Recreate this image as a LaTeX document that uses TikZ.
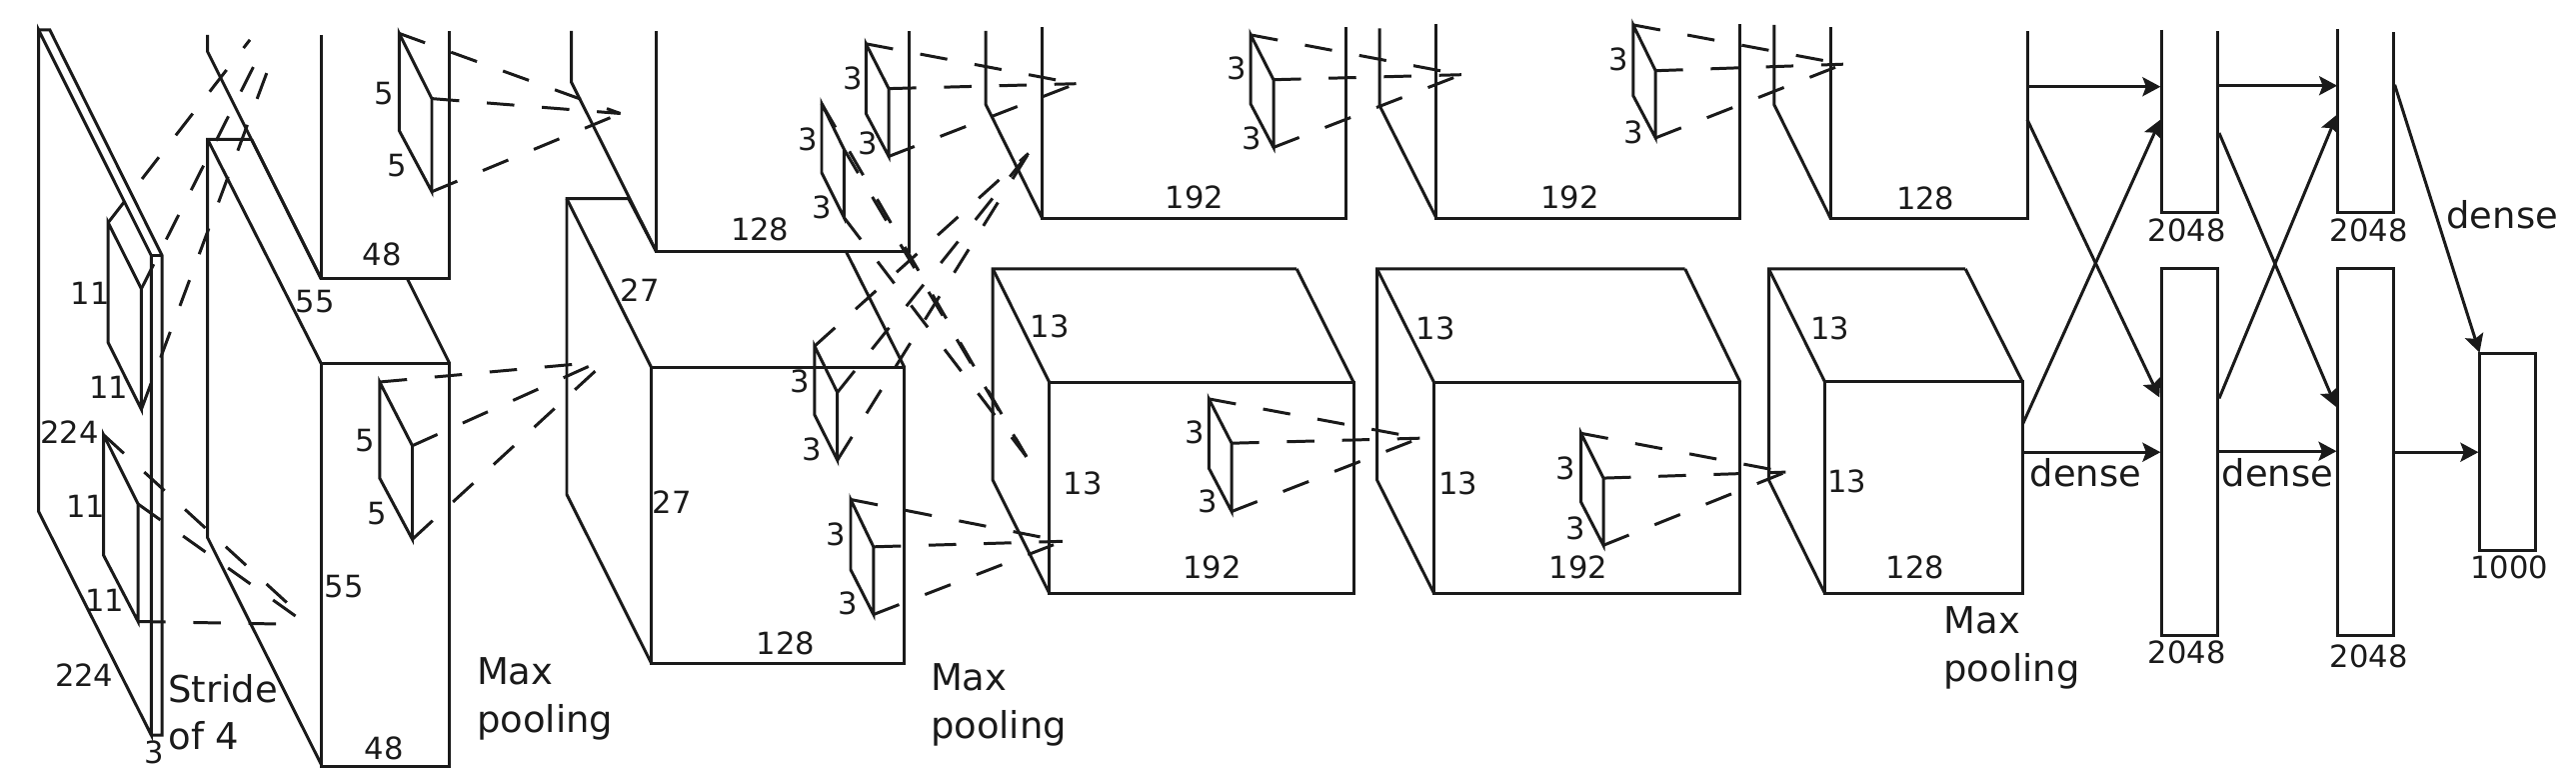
\documentclass[tikz,border=0pt]{standalone}
\usepackage{fontspec}
\setmainfont{DejaVu Sans}
\usetikzlibrary{arrows.meta}
\definecolor{inkline}{HTML}{1A1A1A}
\tikzset{
  numlabel/.style={font=\fontsize{8.7}{10}\selectfont,inner sep=0pt},
  steplabel/.style={font=\fontsize{10.5}{13.5}\selectfont,inner sep=0pt,align=left,anchor=west},
  kernelline/.style={dash pattern=on 0.275cm off 0.277cm},
}
\begin{document}
\begin{tikzpicture}[x=0.01cm,y=-0.01cm,line width=0.85pt,color=inkline,
  >={Stealth[length=0.18cm,width=0.19cm,inset=0.035cm]}]
\useasboundingbox (0,0) rectangle (2577,781);

% Input
\draw (38.6,29.9) -- (38.6,511.5) -- (151.3,735) -- (151.3,255.5) -- cycle;
\draw (38.6,29.9) -- (49.8,29.9) -- (162.1,255.5) -- (162.1,735) -- (151.3,735);
\draw (151.3,255.5) -- (162.1,255.5);

% Conv 1, upper and lower
\draw (207.7,34.9) -- (207.7,51.8) -- (321.3,278.9);
\draw (321.3,34.9) -- (321.3,278.9) -- (449.8,278.9) -- (449.8,31.4);
\draw (251.7,139.4) -- (207.7,139.4) -- (207.7,537.8) -- (321.3,764.4);
\draw (207.7,139.4) -- (321.3,363.5);
\draw (251.7,139.4) -- (321.3,278.9);
\draw (407.5,278.9) -- (449.8,363.5);
\draw (321.3,363.5) rectangle (449.8,766.9);

% Conv 2, upper and lower
\draw (571.6,30.9) -- (571.6,82.2) -- (656.5,251.5);
\draw (656.5,30.9) -- (656.5,251.5) -- (909.9,251.5) -- (909.9,30.9);
\draw (628.8,198.7) -- (567,198.7) -- (567,494.5) -- (651.6,663.3);
\draw (567,198.7) -- (651.6,367.5);
\draw (628.8,198.7) -- (656.5,251.5);
\draw (846.4,251.5) -- (904.9,367.5);
\draw (651.6,367.5) rectangle (904.9,663.3);

% Conv 3, upper and lower
\draw (986.2,30.9) -- (986.2,104.6) -- (1042.5,218.1);
\draw (1042.5,27.4) -- (1042.5,218.1) -- (1346.9,218.1) -- (1346.9,27.4);
\draw (1297.2,268.9) -- (993.2,268.9) -- (993.2,480.1) -- (1049.6,593.1);
\draw (993.2,268.9) -- (1049.6,382);
\draw (1297.2,268.9) -- (1354,382);
\draw (1049.6,382) rectangle (1354,593.1);

% Conv 4, upper and lower
\draw (1380.1,28.4) -- (1380.1,105.6) -- (1436.9,218.1);
\draw (1436.9,23.9) -- (1436.9,218.1) -- (1740.8,218.1) -- (1740.8,23.9);
\draw (1685.7,268.9) -- (1377.6,268.9) -- (1377.6,480.1) -- (1434.4,593.1);
\draw (1377.6,268.9) -- (1434.4,382);
\draw (1685.7,268.9) -- (1740.8,382);
\draw (1434.4,382) rectangle (1740.8,593.1);

% Conv 5, upper and lower
\draw (1774.8,24.9) -- (1774.8,104.6) -- (1831.2,218.1);
\draw (1831.2,27.4) -- (1831.2,218.1) -- (2028,218.1) -- (2028,31.4);
\draw (1966.2,268.9) -- (1769.5,268.9) -- (1769.5,480.1) -- (1825.4,593.1);
\draw (1769.5,268.9) -- (1825.4,381.5);
\draw (1966.2,268.9) -- (2023.2,381.5);
\draw (1825.4,381.5) rectangle (2023.2,593.1);

% Dense layers
\draw (2162.4,29.9) -- (2162.4,212.6) -- (2218.9,212.6) -- (2218.9,30.9);
\draw (2338.1,28.9) -- (2338.1,212.6) -- (2394.5,212.6) -- (2394.5,31.9);
\draw (2162.4,268.9) rectangle (2218.9,635.5);
\draw (2338.1,268.9) rectangle (2394.5,635.5);
\draw (2480.5,353.6) rectangle (2536.9,550.3);

% Where the kernels point
\coordinate (t1a) at (250,39.8);
\coordinate (t1b) at (254.6,64.7);
\coordinate (t1c) at (269.9,64.7);
\coordinate (t2a) at (290.2,605.6);
\coordinate (t2b) at (297.7,617.5);
\coordinate (t2c) at (279,624);
\coordinate (t3) at (620.6,113.5);
\coordinate (t4a) at (577.5,364);
\coordinate (t4b) at (592,365);
\coordinate (t4c) at (598.3,368.5);
\coordinate (t5) at (1076.5,83.7);
\coordinate (t6) at (1026.8,456.7);
\coordinate (t7) at (1028.9,153.4);
\coordinate (t8) at (1062.9,541.3);
\coordinate (t9) at (1461.8,74.7);
\coordinate (t10) at (1420.3,438.2);
\coordinate (t11) at (1843.9,64.2);
\coordinate (t12) at (1786.4,472.1);

% Kernels
\foreach \kname/\xa/\xb/\ya/\yb/\yc/\yd/\ta/\tb/\tc in {
  ka/108.2/141.4/222.6/288.8/342.6/409.4/t1a/t1b/t1c,
  kb/103.6/138.1/434.8/504/555.3/621.5/t2a/t2b/t2c,
  kc/399.3/432/33.4/98.6/130.5/191.7/t3/t3/t3,
  kd/379.8/412.5/382/445.7/478.1/539.3/t4a/t4b/t4c,
  ke/866.3/889.1/43.8/88.6/113.5/156.4/t5/t5/t5,
  kf/822/844.4/103.6/149.4/172.8/217.6/t6/t6/t6,
  kg/814.9/837.7/346.1/392.4/414.8/460.2/t7/t7/t7,
  kh/851/873.8/499.5/546.8/569.7/614.5/t8/t8/t8,
  ki/1251.2/1274/34.9/79.7/104.1/147.4/t9/t9/t9,
  kj/1209.3/1232.1/398.9/443.2/468.1/511.5/t10/t10/t10,
  kk/1633.8/1656.2/24.9/70.7/95.6/137.9/t11/t11/t11,
  kl/1581.6/1604/433.3/478.1/502/545.3/t12/t12/t12} {
  \coordinate (\kname-a) at (\xa,\ya);
  \coordinate (\kname-b) at (\xb,\yb);
  \coordinate (\kname-c) at (\xa,\yc);
  \coordinate (\kname-d) at (\xb,\yd);
  \draw (\kname-a) -- (\kname-c) -- (\kname-d) -- (\kname-b) -- cycle;
  \draw[kernelline] (\kname-a) -- (\ta);
  \draw[kernelline] (\kname-b) -- (\tb);
  \draw[kernelline] (\kname-d) -- (\tc);
}

% Arrow ends
\coordinate (c5u-a) at (2028,86.7);
\coordinate (c5u-b) at (2028,119.5);
\coordinate (c5l-a) at (2023.2,424.8);
\coordinate (c5l-b) at (2023.2,452.2);
\coordinate (d1u-a) at (2161.4,86.7);
\coordinate (d1u-b) at (2161.4,119.5);
\coordinate (d1l-a) at (2160.3,397.4);
\coordinate (d1l-b) at (2161.4,452.2);
\coordinate (d1u-c) at (2218.9,85.7);
\coordinate (d1u-d) at (2220,133);
\coordinate (d1l-c) at (2220,398.4);
\coordinate (d1l-d) at (2218.9,451.2);
\coordinate (d2u-a) at (2338.1,85.7);
\coordinate (d2u-b) at (2338,114.5);
\coordinate (d2l-a) at (2337,406.9);
\coordinate (d2l-b) at (2337.5,451.2);
\coordinate (d2u-c) at (2395.6,84.7);
\coordinate (d2l-c) at (2394.5,452.2);
\coordinate (out-a) at (2480.5,352.6);
\coordinate (out-b) at (2479.4,452.2);

% Dense connections
\foreach \src/\dst in {c5u-a/d1u-a,c5u-b/d1l-a,c5l-a/d1u-b,c5l-b/d1l-b,
  d1u-c/d2u-a,d1u-d/d2l-a,d1l-c/d2u-b,d1l-d/d2l-b,d2u-c/out-a,d2l-c/out-b} {
  \draw[->] (\src) -- (\dst);
}

% Sizes
\foreach \lname/\x/\y/\t in {
  n1/90.4/293.8/11,n2/108.6/387.5/11,n3/69.7/432.3/224,n4/85.8/506.5/11,
  n5/104.5/600.1/11,n6/84.2/675.3/224,n7/154.6/752/3,
  n8/382.3/254/48,n9/315.1/301.3/55,n10/384.7/93.1/5,n11/396.8/165.8/5,
  n12/365.3/440.7/5,n13/377.3/513.9/5,n14/344.1/586.7/55,n15/384.3/748.5/48,
  n16/760.2/229.1/128,n17/640.4/289.8/27,n18/853.1/78.7/3,n19/808.7/139.4/3,
  n20/868/143.4/3,n21/822/207.2/3,n22/672.3/502/27,n23/785.9/643.4/128,
  n24/800/381/3,n25/812/449.2/3,n26/836.1/534.4/3,n27/848.1/603.1/3,
  n28/1050/326.7/13,n29/1083.2/483.6/13,n30/1237.5/68.7/3,n31/1252.4/138.4/3,
  n32/1194.8/197.2/192,n33/1195.6/432.8/3,n34/1208/501/3,n35/1212.6/567.7/192,
  n36/1570.4/197.2/192,n37/1619.7/59.8/3,n38/1634.7/132/3,n39/1436.1/328.7/13,
  n40/1458.9/483.6/13,n41/1566.7/468.1/3,n42/1576.6/527.9/3,n43/1579.1/567.7/192,
  n44/1926.2/198.2/128,n45/1830.7/328.7/13,n46/1847.6/481/13,n47/1916.1/567.7/128,
  n48/2187.8/230.6/2048,n49/2369.7/230.6/2048,n50/2187.8/652.4/2048,
  n51/2369.7/656.4/2048,n52/2510/567.7/1000} {
  \node[numlabel] (\lname) at (\x,\y) {\t};
}

% Steps
\node[steplabel] (stride) at (167,712) {Stride\\of 4};
\node[steplabel] (pool-a) at (475.6,699) {Max\\pooling};
\node[steplabel] (pool-b) at (929.5,705) {Max\\pooling};
\node[steplabel] (pool-c) at (1943,648) {Max\\pooling};
\node[steplabel,anchor=center] (dense-a) at (2086.5,473) {dense};
\node[steplabel,anchor=center] (dense-b) at (2278.5,473) {dense};
\node[steplabel,anchor=center] (dense-c) at (2503.2,215.1) {dense};

\end{tikzpicture}
\end{document}
